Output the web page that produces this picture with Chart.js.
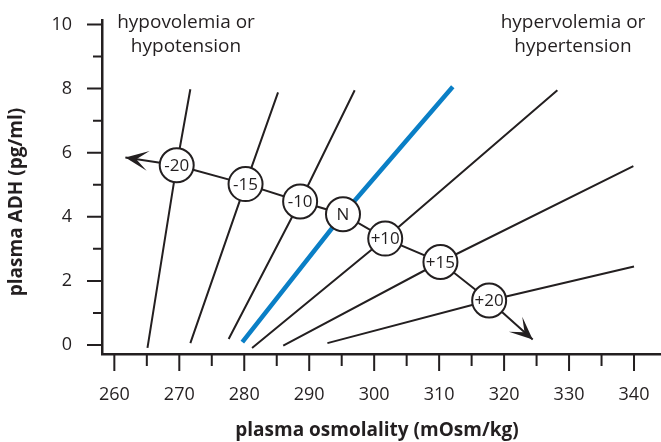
<!DOCTYPE html>
<html>
<head>
<meta charset="utf-8">
<script src="https://cdn.jsdelivr.net/npm/chart.js@4"></script>
<style>
  html, body { margin: 0; padding: 0; background: #fff; }
</style>
</head>
<body>
<canvas id="chart" width="661" height="442"></canvas>
<script>
// volume / pressure states along the set-point path
const stateLabels = ['-20', '-15', '-10', 'N', '+10', '+15', '+20'];
const stateOsm = [269.6, 280.2, 288.6, 295.2, 301.7, 310.2, 317.7];
const stateAdh = [5.61, 5.02, 4.48, 4.08, 3.32, 2.59, 1.39];

// ends of each ADH response line (lower and upper)
const lowOsm = [265.1, 271.7, 277.6, 279.7, 281.2, 286.0, 292.8];
const lowAdh = [-0.09, 0.06, 0.19, 0.09, -0.09, -0.02, 0.06];
const highOsm = [271.7, 285.2, 297.0, 312.1, 328.2, 339.9, 340.0];
const highAdh = [7.98, 7.88, 7.95, 8.06, 7.95, 5.58, 2.45];

// arrow tips leaving the first and last state
const arrowOsm = [261.7, 324.4];
const arrowAdh = [5.85, 0.17];

// axis ticks
const xMajorTicks = [260, 270, 280, 290, 300, 310, 320, 330, 340];
const xMinorTicks = [265, 275, 285, 295, 305, 315, 325, 335];
const yMajorTicks = [0, 2, 4, 6, 8, 10];
const yMinorTicks = [1, 3, 5, 7, 9];

const ink = '#231f20';
const blue = '#0a7fc6';
const fontFamily = '"Open Sans", sans-serif';

const fanLines = stateLabels.map((label, i) => ({
  label: 'response ' + label,
  data: [
    { x: lowOsm[i], y: lowAdh[i] },
    { x: stateOsm[i], y: stateAdh[i] },
    { x: highOsm[i], y: highAdh[i] }
  ],
  borderColor: label === 'N' ? blue : ink,
  borderWidth: label === 'N' ? 4.5 : 2,
  pointRadius: 0,
  order: 3
}));

const arrows = [0, stateLabels.length - 1].map((s, i) => ({
  label: 'arrow ' + i,
  data: [{ x: stateOsm[s], y: stateAdh[s] }, { x: arrowOsm[i], y: arrowAdh[i] }],
  borderColor: ink,
  borderWidth: 2,
  pointRadius: 0,
  order: 2
}));

const path = {
  label: 'states',
  data: stateLabels.map((l, i) => ({ x: stateOsm[i], y: stateAdh[i] })),
  borderColor: ink,
  borderWidth: 2,
  pointRadius: 17,
  pointBackgroundColor: '#fff',
  pointBorderColor: ink,
  pointBorderWidth: 2,
  order: 0
};

function arrowHead(ctx, x0, y0, x1, y1) {
  ctx.save();
  ctx.translate(x1, y1);
  ctx.rotate(Math.atan2(y1 - y0, x1 - x0));
  ctx.beginPath();
  ctx.moveTo(0, 0);
  ctx.lineTo(-23, -10);
  ctx.lineTo(-11, 0);
  ctx.lineTo(-23, 10);
  ctx.closePath();
  ctx.fill();
  ctx.restore();
}

// no extra room for the end tick labels
function noPadding(s) {
  s.paddingTop = 0;
  s.paddingBottom = 0;
  s.paddingLeft = 0;
  s.paddingRight = 0;
}

const decorations = {
  id: 'decorations',
  afterDatasetsDraw(chart) {
    const ctx = chart.ctx;
    ctx.save();
    ctx.fillStyle = ink;

    // arrow heads
    arrows.forEach((ds, i) => {
      const pts = chart.getDatasetMeta(fanLines.length + i).data;
      arrowHead(ctx, pts[0].x, pts[0].y, pts[1].x, pts[1].y);
    });

    // state labels in the circles
    const meta = chart.getDatasetMeta(fanLines.length + arrows.length);
    ctx.font = '17px ' + fontFamily;
    ctx.textAlign = 'center';
    ctx.textBaseline = 'middle';
    meta.data.forEach((pt, i) => ctx.fillText(stateLabels[i], pt.x, pt.y + 1));
    ctx.restore();
  },
  afterDraw(chart) {
    const { ctx, scales: { x, y } } = chart;
    ctx.save();
    ctx.strokeStyle = ink;
    ctx.lineWidth = 2;
    ctx.beginPath();
    xMajorTicks.forEach(v => { const p = x.getPixelForValue(v); ctx.moveTo(p, x.top); ctx.lineTo(p, x.top + 17); });
    xMinorTicks.forEach(v => { const p = x.getPixelForValue(v); ctx.moveTo(p, x.top); ctx.lineTo(p, x.top + 12); });
    yMajorTicks.forEach(v => { const p = y.getPixelForValue(v); ctx.moveTo(y.right, p); ctx.lineTo(y.right - 15, p); });
    yMinorTicks.forEach(v => { const p = y.getPixelForValue(v); ctx.moveTo(y.right, p); ctx.lineTo(y.right - 9, p); });
    ctx.stroke();

    ctx.fillStyle = ink;
    ctx.textAlign = 'center';
    ctx.textBaseline = 'middle';
    ctx.font = '19px ' + fontFamily;
    ctx.fillText('hypovolemia or', 186, 23);
    ctx.fillText('hypotension', 186, 47);
    ctx.fillText('hypervolemia or', 573, 23);
    ctx.fillText('hypertension', 573, 47);

    ctx.font = 'bold 19px ' + fontFamily;
    ctx.fillText('plasma osmolality (mOsm/kg)', 377, 431);
    ctx.translate(17, 202);
    ctx.rotate(-Math.PI / 2);
    ctx.fillText('plasma ADH (pg/ml)', 0, 0);
    ctx.restore();
  }
};

new Chart(document.getElementById('chart'), {
  type: 'line',
  data: { datasets: [...fanLines, ...arrows, path] },
  options: {
    responsive: false,
    animation: false,
    events: [],
    layout: { autoPadding: false, padding: { top: 20, right: 1, left: 0, bottom: 0 } },
    plugins: { legend: { display: false }, tooltip: { enabled: false } },
    scales: {
      x: {
        type: 'linear',
        min: 258.1,
        max: 344,
        afterFit: s => { s.height = 88; noPadding(s); },
        afterBuildTicks: s => { s.ticks = xMajorTicks.map(v => ({ value: v })); },
        grid: { display: false, drawTicks: false },
        border: { color: ink, width: 2.5 },
        ticks: { padding: 30, color: ink, font: { family: fontFamily, size: 18 } }
      },
      y: {
        min: -0.28,
        max: 10.14,
        afterFit: s => { s.width = 102; noPadding(s); },
        afterBuildTicks: s => { s.ticks = yMajorTicks.map(v => ({ value: v })); },
        grid: { display: false, drawTicks: false },
        border: { color: ink, width: 2.5 },
        ticks: { padding: 30, color: ink, font: { family: fontFamily, size: 18 } }
      }
    }
  },
  plugins: [decorations]
});
</script>
</body>
</html>
